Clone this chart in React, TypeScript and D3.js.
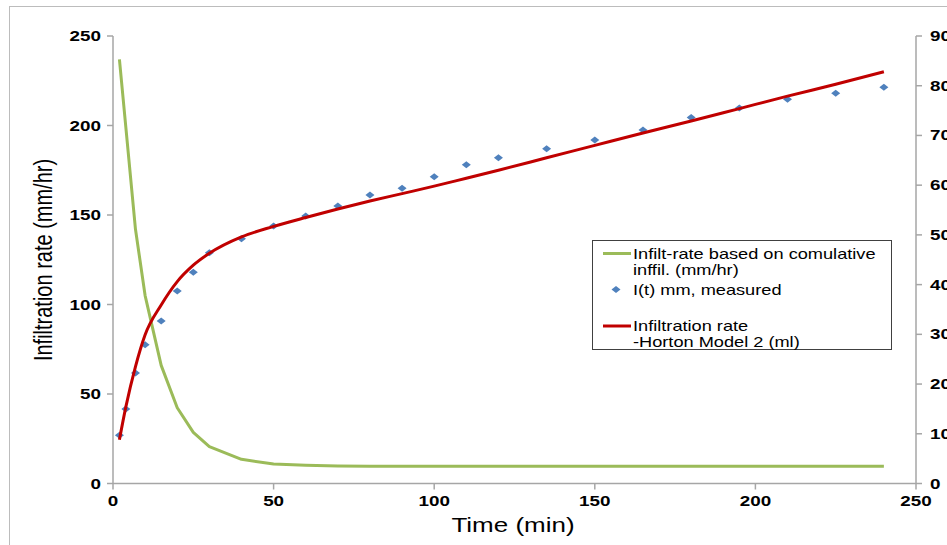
import React from 'react';
import * as d3 from 'd3';

// time (min) of each reading
const times = [2, 4, 7, 10, 15, 20, 25, 30, 40, 50, 60, 70, 80, 90, 100, 110, 120, 135, 150, 165, 180, 195, 210, 225, 240];
// infilt-rate from cumulative infiltration (mm/hr), left axis
const infiltRate = [237, 199, 142, 105, 66, 42.3, 28.6, 20.6, 13.5, 10.9, 10.2, 9.8, 9.7, 9.7, 9.7, 9.7, 9.7, 9.7, 9.7, 9.7, 9.7, 9.7, 9.7, 9.7, 9.7];
// I(t) measured (mm), right axis
const measured = [9.7, 15.0, 22.2, 27.9, 32.7, 38.7, 42.5, 46.4, 49.2, 51.8, 53.8, 55.8, 58.0, 59.4, 61.7, 64.1, 65.5, 67.3, 69.1, 71.1, 73.6, 75.5, 77.3, 78.5, 79.7];
// Horton model 2, right axis
const horton = [8.8, 15.4, 23.5, 29.9, 35.9, 40.6, 43.9, 46.3, 49.6, 51.7, 53.5, 55.2, 56.8, 58.3, 59.8, 61.4, 63.0, 65.5, 68.0, 70.5, 72.9, 75.4, 77.9, 80.3, 82.8];

const xTicks = [0, 50, 100, 150, 200, 250];
const leftTicks = [0, 50, 100, 150, 200, 250];
const rightTicks = [0, 10, 20, 30, 40, 50, 60, 70, 80, 90];

const legendItems = [
    { kind: 'line', color: '#9bbb59', lines: ['Infilt-rate based on comulative', 'inffil. (mm/hr)'] },
    { kind: 'marker', color: '#4f81bd', lines: ['I(t) mm, measured'] },
    { kind: 'line', color: '#c00000', lines: ['Infiltration rate', '-Horton Model 2 (ml)'] },
];

const FONT = 'Arial, "Liberation Sans", sans-serif';
const SX = 1.3; // the original picture is stretched sideways

function T(props: any) {
    const { x, y, children, anchor = 'start', size = 14, weight = 'normal', rotate = 0 } = props;
    return (
        <text
            transform={`translate(${x},${y}) scale(${SX},1)` + (rotate ? ` rotate(${rotate})` : '')}
            textAnchor={anchor}
            fontFamily={FONT}
            fontSize={size}
            fontWeight={weight}
            fill="#000"
        >
            {children}
        </text>
    );
}

export default function App() {
    const width = 947, height = 545;
    const plot = { left: 113, right: 916, top: 36, bottom: 483.5 };

    const x = d3.scaleLinear().domain([0, 250]).range([plot.left, plot.right]);
    const yLeft = d3.scaleLinear().domain([0, 250]).range([plot.bottom, plot.top]);
    const yRight = d3.scaleLinear().domain([0, 90]).range([plot.bottom, plot.top]);

    const greenLine = d3.line<number>()
        .x((d, i) => x(times[i]))
        .y(d => yLeft(d));
    const redLine = d3.line<number>()
        .x((d, i) => x(times[i]))
        .y(d => yRight(d))
        .curve(d3.curveMonotoneX);

    const diamond = (cx: number, cy: number) =>
        `M${cx - 4.5},${cy} L${cx},${cy - 3.5} L${cx + 4.5},${cy} L${cx},${cy + 3.5} Z`;

    const axisColor = '#a6a6a6';

    // legend layout
    const lg = { x: 592.5, y: 240.5, w: 299, h: 109 };
    const rowY = [253.5, 289.5, 326];

    return (
        <svg width={width} height={height} style={{ position: 'absolute', left: 0, top: 0 }}>
            <rect x={9.5} y={6.5} width={1000} height={1000} fill="#fff" stroke="#bcbcbc" />

            {/* axes */}
            <line x1={plot.left} x2={plot.left} y1={plot.top} y2={plot.bottom} stroke={axisColor} strokeWidth={1.5} />
            <line x1={plot.right} x2={plot.right} y1={plot.top} y2={plot.bottom} stroke={axisColor} strokeWidth={1.5} />
            <line x1={plot.left} x2={plot.right} y1={plot.bottom} y2={plot.bottom} stroke={axisColor} strokeWidth={1.5} />

            {leftTicks.map(t => (
                <g key={'l' + t}>
                    <line x1={plot.left - 6} x2={plot.left} y1={yLeft(t)} y2={yLeft(t)} stroke={axisColor} strokeWidth={1.5} />
                    <T x={101} y={yLeft(t) + 5} anchor="end" size={14.5} weight="bold">{t}</T>
                </g>
            ))}
            {rightTicks.map(t => (
                <g key={'r' + t}>
                    <line x1={plot.right} x2={plot.right + 6} y1={yRight(t)} y2={yRight(t)} stroke={axisColor} strokeWidth={1.5} />
                    <T x={930} y={yRight(t) + 5} size={14.5} weight="bold">{t}</T>
                </g>
            ))}
            {xTicks.map(t => (
                <g key={'x' + t}>
                    <line x1={x(t)} x2={x(t)} y1={plot.bottom} y2={plot.bottom + 6} stroke={axisColor} strokeWidth={1.5} />
                    <T x={x(t)} y={506} anchor="middle" size={14.5} weight="bold">{t}</T>
                </g>
            ))}

            <T x={513} y={532} anchor="middle" size={20}>Time (min)</T>
            <T x={52} y={260} anchor="middle" size={20} rotate={-90}>Infiltration rate (mm/hr)</T>

            {/* series */}
            <path d={greenLine(infiltRate) || ''} fill="none" stroke="#9bbb59" strokeWidth={3} strokeLinejoin="round" />
            {measured.map((v, i) => (
                <path key={'m' + i} d={diamond(x(times[i]), yRight(v))} fill="#4f81bd" />
            ))}
            <path d={redLine(horton) || ''} fill="none" stroke="#c00000" strokeWidth={3} strokeLinejoin="round" />

            {/* legend */}
            <rect x={lg.x} y={lg.y} width={lg.w} height={lg.h} fill="#fff" stroke="#404040" />
            {legendItems.map((item, i) => (
                <g key={'lg' + i}>
                    {item.kind === 'line'
                        ? <line x1={603} x2={631} y1={rowY[i]} y2={rowY[i]} stroke={item.color} strokeWidth={3} />
                        : <path d={diamond(616, rowY[i])} fill={item.color} />}
                    {item.lines.map((s, j) => (
                        <T key={j} x={633} y={rowY[i] + 5 + j * 16} size={14}>{s}</T>
                    ))}
                </g>
            ))}
        </svg>
    );
}
